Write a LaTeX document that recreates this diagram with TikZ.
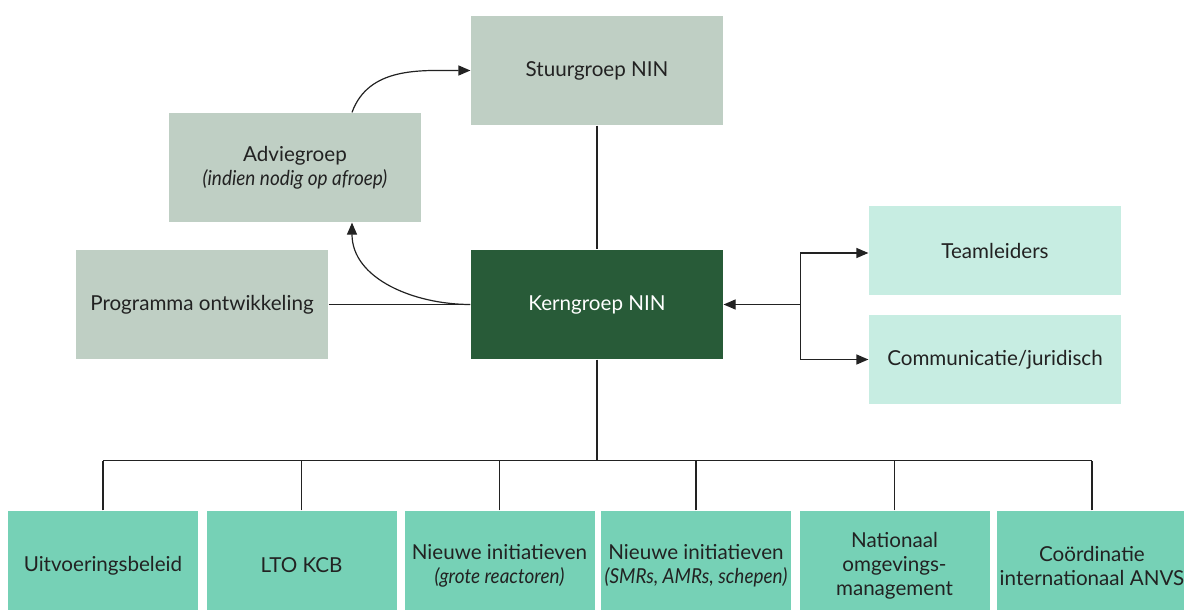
\documentclass[tikz,border=0pt]{standalone}
\usepackage{fontspec}
\setmainfont{Lato}[ItalicFeatures={FakeStretch=0.92}]
\usepackage{tikz}
\usetikzlibrary{arrows.meta}

\definecolor{grijs}{HTML}{BFCFC4}
\definecolor{donker}{HTML}{285B38}
\definecolor{licht}{HTML}{C7EDE2}
\definecolor{mint}{HTML}{76D1B6}
\definecolor{tekst}{HTML}{222222}

\begin{document}
\begin{tikzpicture}[x=0.5pt,y=-0.5pt,line width=0.6pt,draw=tekst,
  box/.style={minimum width=126pt,minimum height=54.5pt,inner sep=0pt,align=center,
    text=tekst,font=\fontsize{10.3}{12}\selectfont},
  grijsbox/.style={box,fill=grijs},
  kernbox/.style={box,fill=donker,text=white},
  lichtbox/.style={box,fill=licht,minimum height=44.5pt},
  teambox/.style={box,fill=mint,minimum width=95pt},
  pijl/.style={-{Triangle[length=6pt,width=5pt]}}]
  \useasboundingbox (0,0) rectangle (1184,610);

  \node[grijsbox] (stuur) at (597,70.5) {Stuurgroep NIN};
  \node[grijsbox] (advies) at (295,167.5) {Adviegroep\\\textit{(indien nodig op afroep)}};
  \node[grijsbox] (prog) at (202,304.5) {Programma ontwikkeling};
  \node[kernbox] (kern) at (597,304.5) {Kerngroep NIN};
  \node[lichtbox] (team) at (995,250.5) {Teamleiders};
  \node[lichtbox] (comm) at (995,359.5) {Communicatie/juridisch};

  \foreach \x/\n/\t in {
      103/b1/Uitvoeringsbeleid,
      301.5/b2/LTO KCB,
      499.5/b3/{Nieuwe initiatieven\\\textit{(grote reactoren)}},
      696/b4/{Nieuwe initiatieven\\\textit{(SMRs, AMRs, schepen)}},
      894.5/b5/{Nationaal\\omgevings-\\management},
      1092/b6/{Coördinatie\\internationaal ANVS}}
    \node[teambox] (\n) at (\x,565.5) {\t};

  \coordinate (split) at ([xshift=38.5pt]kern.east);
  \coordinate (bar) at ([yshift=-50.5pt]kern.south);

  \path
    (stuur) edge (kern)
    (prog) edge (kern)
    (kern.south) edge (bar)
    (b1.north |- bar) edge (b6.north |- bar)
  ;
  \draw[pijl] (kern.west) to[out=180,in=-90] ([xshift=28.5pt]advies.south);
  \draw[pijl] ([xshift=28.5pt]advies.north) to[out=70,in=180] (stuur.west);
  \draw[pijl] (split) -- (kern.east);
  \draw[pijl] (split) |- ([yshift=-1.25pt]team.west);
  \draw[pijl] (split) |- (comm.west);
  \foreach \n in {b1,b2,b3,b4,b5,b6}
    \draw (\n.north) -- (\n.north |- bar);
\end{tikzpicture}
\end{document}
